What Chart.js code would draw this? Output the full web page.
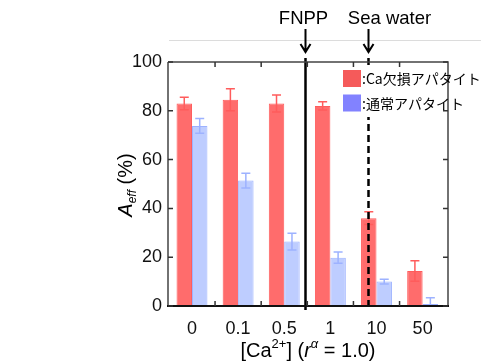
<!DOCTYPE html>
<html>
<head>
<meta charset="utf-8">
<script src="https://cdn.jsdelivr.net/npm/chart.js@4.4.1/dist/chart.umd.min.js"></script>
<style>
html,body{margin:0;padding:0;background:#fff;}
#wrap{width:481px;height:362px;position:relative;}
</style>
</head>
<body>
<div id="wrap"><canvas id="c" width="481" height="362"></canvas></div>
<script>
const categories = ['0', '0.1', '0.5', '1', '10', '50'];
const caDeficient = [83, 84.5, 83, 82, 36, 14.3];
const caDeficientErr = [2.6, 4.5, 3.5, 1.7, 2.6, 4.2];
const normal = [73.8, 51.4, 26.4, 19.8, 10, 0.8];
const normalErr = [3, 3, 3.4, 2.3, 1, 2.6];
const yTicks = [0, 20, 40, 60, 80, 100];
const markerLabels = ['FNPP', 'Sea water'];
const markerPos = [2.44, 3.81];
const markerDashed = [false, true];
const legendLabels = [':Ca欠損アパタイト', ':通常アパタイト'];

const RED_FILL = 'rgba(255,100,100,0.95)';
const RED_LINE = '#ff5c5c';
const BLUE_FILL = 'rgba(190,205,255,1)';
const BLUE_LINE = '#9db2ff';
const FONT = '"Liberation Sans", Arial, Helvetica, sans-serif';
const JFONT = '"Noto Sans CJK JP", "Noto Sans", sans-serif';

const errs = [caDeficientErr, normalErr];
const errColors = [RED_LINE, BLUE_LINE];

const decor = {
  id: 'decor',
  afterDatasetsDraw(chart) {
    const ctx = chart.ctx;
    const y = chart.scales.y;
    chart.data.datasets.forEach((ds, di) => {
      const meta = chart.getDatasetMeta(di);
      ctx.save();
      ctx.strokeStyle = errColors[di];
      ctx.lineWidth = 1.5;
      meta.data.forEach((el, i) => {
        const v = ds.data[i].y;
        const e = errs[di][i];
        const yt = y.getPixelForValue(v + e);
        const yb = y.getPixelForValue(Math.max(0, v - e));
        const cx = el.x;
        ctx.beginPath();
        ctx.moveTo(cx, yt); ctx.lineTo(cx, yb);
        ctx.moveTo(cx - 4.5, yt); ctx.lineTo(cx + 4.5, yt);
        ctx.moveTo(cx - 4.5, yb); ctx.lineTo(cx + 4.5, yb);
        ctx.stroke();
      });
      ctx.restore();
    });
  },
  afterDraw(chart) {
    const ctx = chart.ctx;
    const a = chart.chartArea;
    const x = chart.scales.x;
    const y = chart.scales.y;
    ctx.save();
    // faint top line
    ctx.strokeStyle = '#dcdcdc';
    ctx.lineWidth = 1;
    ctx.beginPath(); ctx.moveTo(a.left + 1, 40.5); ctx.lineTo(481, 40.5); ctx.stroke();

    // marker lines and arrows
    markerPos.forEach((p, k) => {
      const px = Math.round(x.getPixelForValue(p)) + 0.5;
      ctx.strokeStyle = '#000';
      ctx.lineWidth = 2.5;
      if (markerDashed[k]) ctx.setLineDash([7, 4]); else ctx.setLineDash([]);
      ctx.beginPath();
      ctx.moveTo(px, a.top - 4);
      ctx.lineTo(px, markerDashed[k] ? a.bottom : a.bottom + 4);
      ctx.stroke();
      ctx.setLineDash([]);
      // arrow
      ctx.lineWidth = 2;
      ctx.beginPath();
      ctx.moveTo(px, 29); ctx.lineTo(px, 52);
      ctx.moveTo(px - 5, 44); ctx.lineTo(px, 52); ctx.lineTo(px + 5, 44);
      ctx.stroke();
      ctx.fillStyle = '#000';
      ctx.font = '18.5px ' + FONT;
      ctx.textAlign = 'center';
      ctx.textBaseline = 'middle';
      const off = k === 0 ? -2 : 21;
      ctx.fillText(markerLabels[k], px + off, 19);
    });

    // legend background
    ctx.fillStyle = '#fff';
    ctx.fillRect(340, 65, 141, 52);

    // axis box
    ctx.strokeStyle = '#444';
    ctx.lineWidth = 1.5;
    ctx.beginPath();
    ctx.moveTo(a.left, a.top); ctx.lineTo(a.right, a.top); ctx.lineTo(a.right, a.bottom);
    ctx.moveTo(a.left, a.top); ctx.lineTo(a.left, a.bottom);
    ctx.stroke();
    ctx.strokeStyle = '#111';
    ctx.lineWidth = 2;
    ctx.beginPath(); ctx.moveTo(a.left - 1, a.bottom); ctx.lineTo(a.right + 1, a.bottom); ctx.stroke();

    // y ticks inward on both sides
    ctx.strokeStyle = '#333';
    ctx.lineWidth = 1.5;
    yTicks.forEach(t => {
      const py = y.getPixelForValue(t);
      ctx.beginPath();
      ctx.moveTo(a.left, py); ctx.lineTo(a.left + 5, py);
      ctx.moveTo(a.right, py); ctx.lineTo(a.right - 5, py);
      ctx.stroke();
    });
    // x ticks at group boundaries, inward top & bottom
    for (let i = 0; i < categories.length - 1; i++) {
      const px = x.getPixelForValue(i + 0.5);
      ctx.beginPath();
      ctx.moveTo(px, a.top); ctx.lineTo(px, a.top + 5);
      ctx.moveTo(px, a.bottom); ctx.lineTo(px, a.bottom - 5);
      ctx.stroke();
    }

    // legend
    const lg = [['#f55a5a', 79], ['#8282ff', 103.5]];
    lg.forEach((l, k) => {
      ctx.fillStyle = l[0];
      ctx.fillRect(343, l[1] - 9, 18, 17);
      ctx.fillStyle = '#000';
      ctx.font = '14px ' + JFONT;
      ctx.textAlign = 'left';
      ctx.textBaseline = 'middle';
      ctx.fillText(legendLabels[k], 362, l[1]);
    });

    // y title: A_eff (%)
    ctx.save();
    ctx.translate(126, 185);
    ctx.rotate(-Math.PI / 2);
    ctx.fillStyle = '#000';
    ctx.textBaseline = 'alphabetic';
    ctx.textAlign = 'left';
    const partsY = [
      ['italic 20px ' + FONT, 'A', 0],
      ['italic 12px ' + FONT, 'eff', 4],
      ['20px ' + FONT, ' (%)', 0]
    ];
    let w = 0;
    partsY.forEach(p => { ctx.font = p[0]; w += ctx.measureText(p[1]).width; });
    let cx = -w / 2;
    partsY.forEach(p => { ctx.font = p[0]; ctx.fillText(p[1], cx, 6 + p[2]); cx += ctx.measureText(p[1]).width; });
    ctx.restore();

    // x title: [Ca2+] (r^α = 1.0)
    const partsX = [
      ['20px ' + FONT, '[Ca', 0],
      ['13px ' + FONT, '2+', -9],
      ['20px ' + FONT, '] (', 0],
      ['italic 20px ' + FONT, 'r', 0],
      ['italic 13px ' + FONT, 'α', -9],
      ['20px ' + FONT, ' = 1.0)', 0]
    ];
    ctx.fillStyle = '#000';
    ctx.textAlign = 'left';
    ctx.textBaseline = 'alphabetic';
    w = 0;
    partsX.forEach(p => { ctx.font = p[0]; w += ctx.measureText(p[1]).width; });
    cx = 308 - w / 2;
    partsX.forEach(p => { ctx.font = p[0]; ctx.fillText(p[1], cx, 357 + p[2]); cx += ctx.measureText(p[1]).width; });
    ctx.restore();
  }
};

new Chart(document.getElementById('c'), {
  type: 'bar',
  data: {
    datasets: [
      {
        label: legendLabels[0],
        data: caDeficient.map((v, i) => ({ x: i, y: v })),
        backgroundColor: RED_FILL,
        borderColor: RED_LINE,
        borderWidth: 1
      },
      {
        label: legendLabels[1],
        data: normal.map((v, i) => ({ x: i, y: v })),
        backgroundColor: BLUE_FILL,
        borderColor: BLUE_LINE,
        borderWidth: 1
      }
    ]
  },
  options: {
    responsive: false,
    animation: false,
    devicePixelRatio: 1,
    layout: { padding: { top: 62, right: 33, left: 0, bottom: 0 } },
    datasets: { bar: { barPercentage: 1, categoryPercentage: 0.67 } },
    plugins: { legend: { display: false }, tooltip: { enabled: false } },
    scales: {
      x: {
        type: 'linear',
        offset: false,
        min: -0.52,
        max: 5.55,
        grid: { display: false, drawTicks: false, offset: false },
        border: { display: false },
        afterFit(s) { s.height = 56; },
        ticks: {
          stepSize: 1,
          includeBounds: false,
          autoSkip: false,
          maxRotation: 0,
          padding: 12,
          color: '#111',
          font: { family: FONT, size: 18 },
          callback: v => (Number.isInteger(v) && categories[v] !== undefined) ? categories[v] : ''
        }
      },
      y: {
        min: 0,
        max: 100,
        grid: { display: false, drawTicks: false },
        border: { display: false },
        afterFit(s) { s.width = 168; },
        afterBuildTicks(s) { s.ticks = yTicks.map(v => ({ value: v })); },
        ticks: {
          padding: 6,
          color: '#111',
          font: { family: FONT, size: 18 }
        }
      }
    }
  },
  plugins: [decor]
});
</script>
</body>
</html>
